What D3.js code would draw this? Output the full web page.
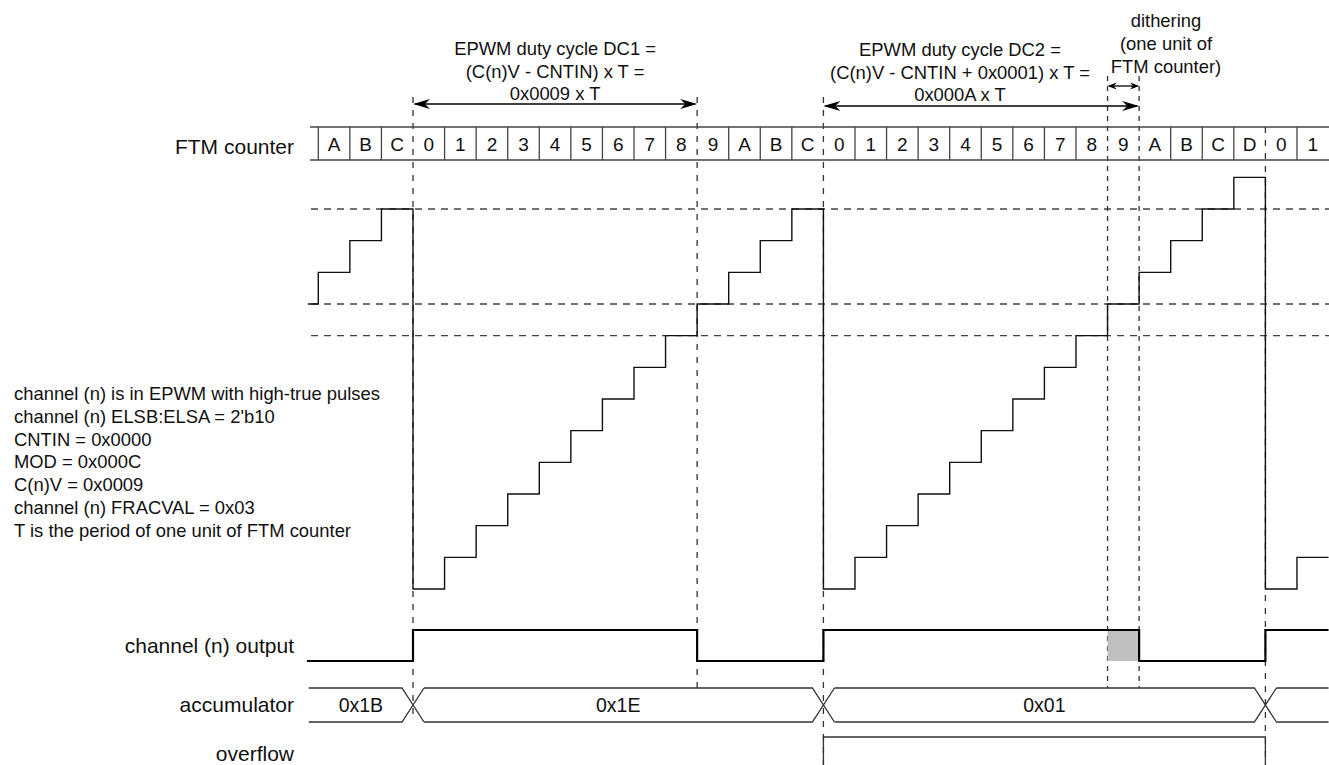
<!DOCTYPE html>
<html>
<head>
<meta charset="utf-8">
<script src="https://cdn.jsdelivr.net/npm/d3@7/dist/d3.min.js"></script>
<style>
body { margin: 0; background: #fff; }
text { font-family: "Liberation Sans", Arial, Helvetica, sans-serif; fill: #111; }
</style>
</head>
<body>
<svg class="chart"></svg>
<script>
// FTM counter cells, first cell sits 3 ticks before the first "0"
var counterLabels = ["A","B","C","0","1","2","3","4","5","6","7","8","9","A","B","C",
                     "0","1","2","3","4","5","6","7","8","9","A","B","C","D","0","1"];
var counterStart = -3;
var leadValue = 9;            // counter value before the first visible cell
var viewStart = -3.33, viewEnd = 29;

// channel output: edge times and levels
var outputTimes  = [-3.36, 0, 9, 13, 23, 27];
var outputLevels = [0, 1, 0, 1, 0, 1];
var ditherSpan   = [22, 23];

// accumulator bus
var accTimes  = [-3.3, 0, 13, 27];
var accLabels = ["0x1B", "0x1E", "0x01", ""];

// overflow
var overflowTimes  = [13, 27];

// reference levels (dashed horizontals)
var refLevels = [12, 9, 8];

// dashed vertical markers
var markerTimes = [0, 9, 13, 22, 23, 27];

var notes = [
    "channel (n) is in EPWM with high-true pulses",
    "channel (n) ELSB:ELSA = 2'b10",
    "CNTIN = 0x0000",
    "MOD = 0x000C",
    "C(n)V = 0x0009",
    "channel (n) FRACVAL = 0x03",
    "T is the period of one unit of FTM counter"
];

var dc1Text = ["EPWM duty cycle DC1 =", "(C(n)V - CNTIN) x T =", "0x0009 x T"];
var dc2Text = ["EPWM duty cycle DC2 =", "(C(n)V - CNTIN + 0x0001) x T =", "0x000A x T"];
var ditherText = ["dithering", "(one unit of", "FTM counter)"];

var width = 1329, height = 765;

var svg = d3.select(".chart")
    .attr("width", width)
    .attr("height", height);

var x = d3.scaleLinear().domain([0, 27]).range([413, 1265.4]);
var y = d3.scaleLinear().domain([0, 12]).range([589, 209]);
var yOut = d3.scaleLinear().domain([0, 1]).range([661, 630]);

var ink = "#111";

// ---- dashed horizontal levels
svg.selectAll(".ref")
    .data(refLevels)
  .enter().append("line")
    .attr("x1", 311).attr("x2", width)
    .attr("y1", function(d) { return y(d); })
    .attr("y2", function(d) { return y(d); })
    .attr("stroke", "#444")
    .attr("stroke-width", 1.4)
    .attr("stroke-dasharray", "7,6");

// ---- dashed vertical markers
var markerExtent = {0: [97, 720], 9: [97, 688], 13: [97, 765], 22: [76, 688], 23: [76, 688], 27: [127, 765]};
svg.selectAll(".marker")
    .data(markerTimes)
  .enter().append("line")
    .attr("x1", function(d) { return x(d); })
    .attr("x2", function(d) { return x(d); })
    .attr("y1", function(d) { return markerExtent[d][0]; })
    .attr("y2", function(d) { return markerExtent[d][1]; })
    .attr("stroke", "#333")
    .attr("stroke-width", 1.3)
    .attr("stroke-dasharray", function(d) { return (d == 22 || d == 23) ? "5,5" : "6,7"; });

// ---- counter row
var rowTop = 127, rowBot = 160;
svg.selectAll(".rowline")
    .data([rowTop, rowBot])
  .enter().append("line")
    .attr("x1", 310).attr("x2", width)
    .attr("y1", function(d) { return d; })
    .attr("y2", function(d) { return d; })
    .attr("stroke", "#444")
    .attr("stroke-width", 1.3);

var cells = counterLabels.map(function(l, i) { return {t: counterStart + i, label: l}; });

svg.selectAll(".divider")
    .data(cells.filter(function(c) { return markerTimes.indexOf(c.t) < 0; }))
  .enter().append("line")
    .attr("x1", function(d) { return x(d.t); })
    .attr("x2", function(d) { return x(d.t); })
    .attr("y1", rowTop).attr("y2", rowBot)
    .attr("stroke", "#444")
    .attr("stroke-width", 1.3);

svg.selectAll(".cell-label")
    .data(cells)
  .enter().append("text")
    .attr("x", function(d) { return x(d.t + 0.5); })
    .attr("y", 151)
    .attr("text-anchor", "middle")
    .style("font-size", "19px")
    .text(function(d) { return d.label; });

// ---- sawtooth (counter value)
var saw = [[viewStart, leadValue]];
cells.forEach(function(c) { saw.push([c.t, parseInt(c.label, 16)]); });
saw.push([viewEnd, saw[saw.length - 1][1]]);

var stepLine = d3.line()
    .x(function(d) { return x(d[0]); })
    .y(function(d) { return y(d[1]); })
    .curve(d3.curveStepAfter);

svg.append("path")
    .datum(saw)
    .attr("d", stepLine)
    .attr("fill", "none")
    .attr("stroke", ink)
    .attr("stroke-width", 1.4);

// ---- channel output
svg.append("rect")
    .attr("x", x(ditherSpan[0]))
    .attr("width", x(ditherSpan[1]) - x(ditherSpan[0]))
    .attr("y", yOut(1))
    .attr("height", yOut(0) - yOut(1))
    .attr("fill", "#c0c0c0");

var outPts = outputTimes.map(function(t, i) { return [t, outputLevels[i]]; });
outPts.push([viewEnd, outputLevels[outputLevels.length - 1]]);

svg.append("path")
    .datum(outPts)
    .attr("d", d3.line()
        .x(function(d) { return x(d[0]); })
        .y(function(d) { return yOut(d[1]); })
        .curve(d3.curveStepAfter))
    .attr("fill", "none")
    .attr("stroke", "#000")
    .attr("stroke-width", 2.2);

// ---- accumulator bus
var busTop = 688, busBot = 722, busMid = (busTop + busBot) / 2, hw = 11;
var busPath = d3.path();
accTimes.forEach(function(t, i) {
    var a = x(t);
    var b = i + 1 < accTimes.length ? x(accTimes[i + 1]) : x(viewEnd);
    var openL = i == 0, openR = i + 1 == accTimes.length;
    // top
    busPath.moveTo(openL ? a : a + hw, busTop);
    busPath.lineTo(openR ? b : b - hw, busTop);
    if (!openR) busPath.lineTo(b + hw, busBot);
    // bottom
    busPath.moveTo(openL ? a : a + hw, busBot);
    busPath.lineTo(openR ? b : b - hw, busBot);
    if (!openR) busPath.lineTo(b + hw, busTop);
});
svg.append("path")
    .attr("d", busPath.toString())
    .attr("fill", "none")
    .attr("stroke", "#333")
    .attr("stroke-width", 1.3);

svg.selectAll(".acc-label")
    .data(accLabels.map(function(l, i) {
        return {label: l, a: accTimes[i], b: i + 1 < accTimes.length ? accTimes[i + 1] : viewEnd};
    }))
  .enter().append("text")
    .attr("x", function(d) { return (x(d.a) + x(d.b)) / 2; })
    .attr("y", busMid + 7)
    .attr("text-anchor", "middle")
    .style("font-size", "19.5px")
    .text(function(d) { return d.label; });

// ---- overflow pulse (low level sits below the visible area)
var ovLow = 780, ovHigh = 737;
svg.append("path")
    .attr("d", "M" + x(overflowTimes[0]) + "," + ovLow + "V" + ovHigh +
               "H" + x(overflowTimes[1]) + "V" + ovLow)
    .attr("fill", "none")
    .attr("stroke", "#333")
    .attr("stroke-width", 1.3);

// ---- arrows
function arrowHead(g, xt, yt, dir, len, half) {
    g.append("path")
        .attr("d", "M" + xt + "," + yt +
                   "L" + (xt - dir * len) + "," + (yt - half) +
                   "L" + (xt - dir * len * 0.7) + "," + yt +
                   "L" + (xt - dir * len) + "," + (yt + half) + "Z")
        .attr("fill", "#000");
}
function doubleArrow(t1, t2, yy, len, half) {
    var g = svg.append("g");
    g.append("line")
        .attr("x1", x(t1) + 2).attr("x2", x(t2) - 2)
        .attr("y1", yy).attr("y2", yy)
        .attr("stroke", "#000").attr("stroke-width", 1.3);
    arrowHead(g, x(t1), yy, -1, len, half);
    arrowHead(g, x(t2), yy, 1, len, half);
}
doubleArrow(0, 9, 104, 17, 5);
doubleArrow(13, 23, 106, 17, 5);
doubleArrow(22, 23, 86, 9, 3.5);

// ---- annotation text
function textBlock(lines, cx, y0, dy, size) {
    svg.append("g").selectAll("text")
        .data(lines)
      .enter().append("text")
        .attr("x", cx)
        .attr("y", function(d, i) { return y0 + i * dy; })
        .attr("text-anchor", "middle")
        .style("font-size", size)
        .text(function(d) { return d; });
}
textBlock(dc1Text, x(4.5), 55, 22.5, "18.4px");
textBlock(dc2Text, 960, 56, 22.5, "18.4px");
textBlock(ditherText, 1166, 27, 22.8, "18.4px");

// ---- notes
svg.append("g").selectAll("text")
    .data(notes)
  .enter().append("text")
    .attr("x", 14)
    .attr("y", function(d, i) { return 400 + i * 22.8; })
    .style("font-size", "18.4px")
    .text(function(d) { return d; });

// ---- row labels
var rowLabels = [
    {label: "FTM counter", y: 154},
    {label: "channel (n) output", y: 653},
    {label: "accumulator", y: 712},
    {label: "overflow", y: 761}
];
svg.selectAll(".row-label")
    .data(rowLabels)
  .enter().append("text")
    .attr("x", 294)
    .attr("y", function(d) { return d.y; })
    .attr("text-anchor", "end")
    .style("font-size", "21px")
    .text(function(d) { return d.label; });
</script>
</body>
</html>
